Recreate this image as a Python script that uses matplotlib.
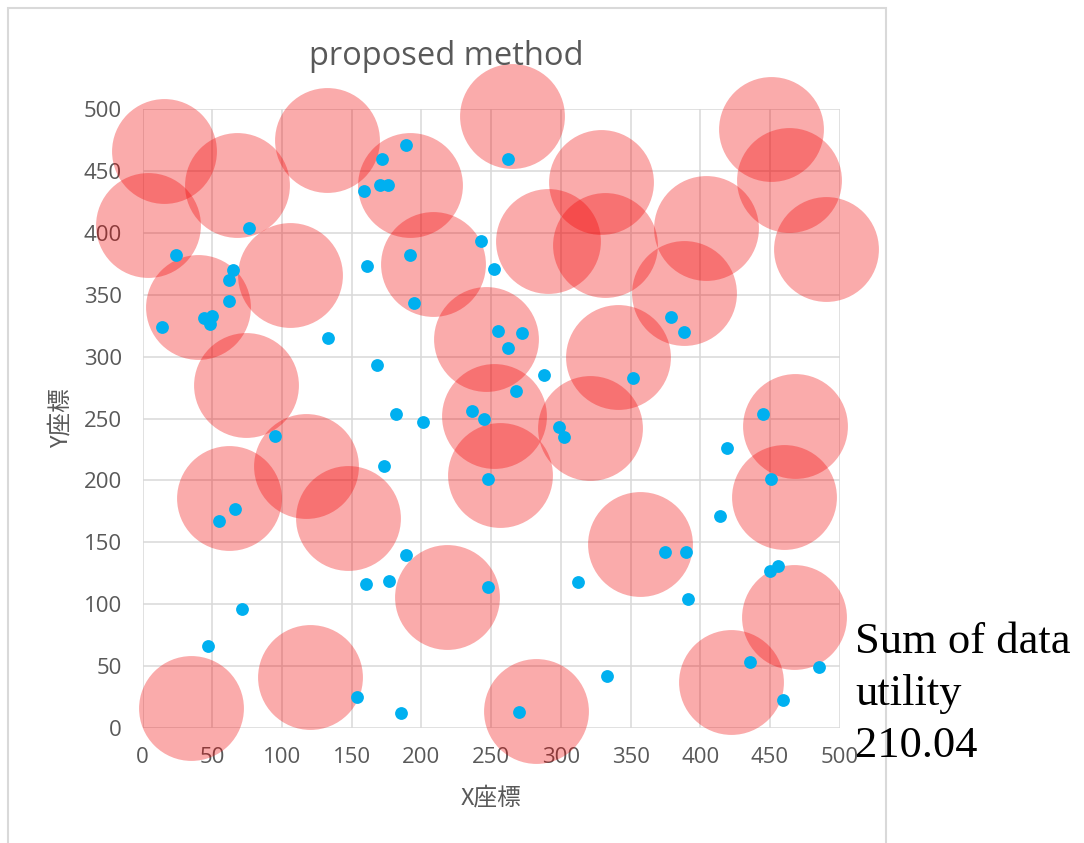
import matplotlib
matplotlib.use("Agg")
import matplotlib.pyplot as plt
from matplotlib.patches import Rectangle

plt.rcParams['font.family'] = ['Open Sans', 'Noto Sans CJK JP', 'DejaVu Sans']

# coverage circles (centres)
circle_x = [15, 4, 68, 132, 40, 106, 74, 192, 208, 265, 329, 291, 332, 404, 451,
            464, 490, 388, 246, 341, 252, 321, 468, 256, 62, 117, 147, 35, 120,
            218, 357, 467, 422, 282, 460]
circle_y = [466, 406, 439, 475, 340, 366, 277, 439, 375, 494, 441, 393, 390, 404, 484,
            443, 387, 351, 314, 300, 252, 242, 244, 204, 186, 212, 170, 16, 41,
            106, 149, 90, 37, 14, 187]

# data points
point_x = [189, 172, 159, 170, 176, 262, 76, 24, 161, 65, 62, 62, 44, 50, 48, 14,
           133, 243, 192, 252, 195, 255, 272, 262, 168, 288, 268, 182, 236, 245,
           201, 379, 388, 352, 445,
           95, 66, 55, 160, 71, 47, 154, 299, 302, 173, 248, 189, 177, 248, 312,
           333, 185, 270, 419, 451, 414, 375, 390, 450, 456, 391, 436, 485, 459]
point_y = [471, 460, 434, 439, 439, 460, 404, 382, 373, 370, 362, 345, 331, 333, 326, 324,
           315, 393, 382, 371, 343, 321, 319, 307, 293, 285, 272, 254, 256, 250,
           247, 332, 320, 283, 254,
           236, 177, 167, 116, 96, 66, 25, 243, 235, 212, 201, 140, 119, 114, 118,
           42, 12, 13, 226, 201, 171, 142, 142, 127, 131, 104, 53, 49, 23]

ticks = list(range(0, 501, 50))
gray = '#595959'

fig = plt.figure(figsize=(10.84, 8.43), dpi=100)
ax = fig.add_axes([0.1316, 0.1364, 0.643, 0.7343])

ax.scatter(circle_x, circle_y, s=5700, color=(0.95, 0.0, 0.0), alpha=0.33,
           linewidths=0, clip_on=False, zorder=2)
ax.scatter(point_x, point_y, s=85, color='#00B0F0', linewidths=0,
           clip_on=False, zorder=3)

ax.set_xlim(0, 500)
ax.set_ylim(0, 500)
ax.set_xticks(ticks)
ax.set_yticks(ticks)
ax.grid(True, color='#D9D9D9', lw=1.1)
ax.set_axisbelow(True)
for s in ax.spines.values():
    s.set_visible(False)
ax.tick_params(length=0, labelsize=16, labelcolor=gray)
ax.tick_params(axis='x', pad=14)
ax.tick_params(axis='y', pad=15)

ax.set_xlabel('X座標', fontsize=17, color=gray,
              family=['Noto Sans CJK JP', 'DejaVu Sans'])
ax.xaxis.set_label_coords(0.5, -0.094)
ax.set_ylabel('Y座標', fontsize=17, color=gray,
              family=['Noto Sans CJK JP', 'DejaVu Sans'])
ax.yaxis.set_label_coords(-0.101, 0.5)

fig.text(0.412, 0.923, 'proposed method', fontsize=23.5, color=gray,
         ha='center', va='baseline')

fig.text(0.789, 0.262, 'Sum of data\nutility\n210.04', fontsize=32,
         family='Liberation Serif', color='black', ha='left', va='top',
         linespacing=1.38)

# chart area border
fig.patches.append(Rectangle((8 / 1084, -0.01), (886 - 8) / 1084, 1 - 8 / 843 + 0.01,
                             transform=fig.transFigure, fill=False,
                             edgecolor='#D9D9D9', lw=1.5))

fig.savefig('out.png', dpi=100)
